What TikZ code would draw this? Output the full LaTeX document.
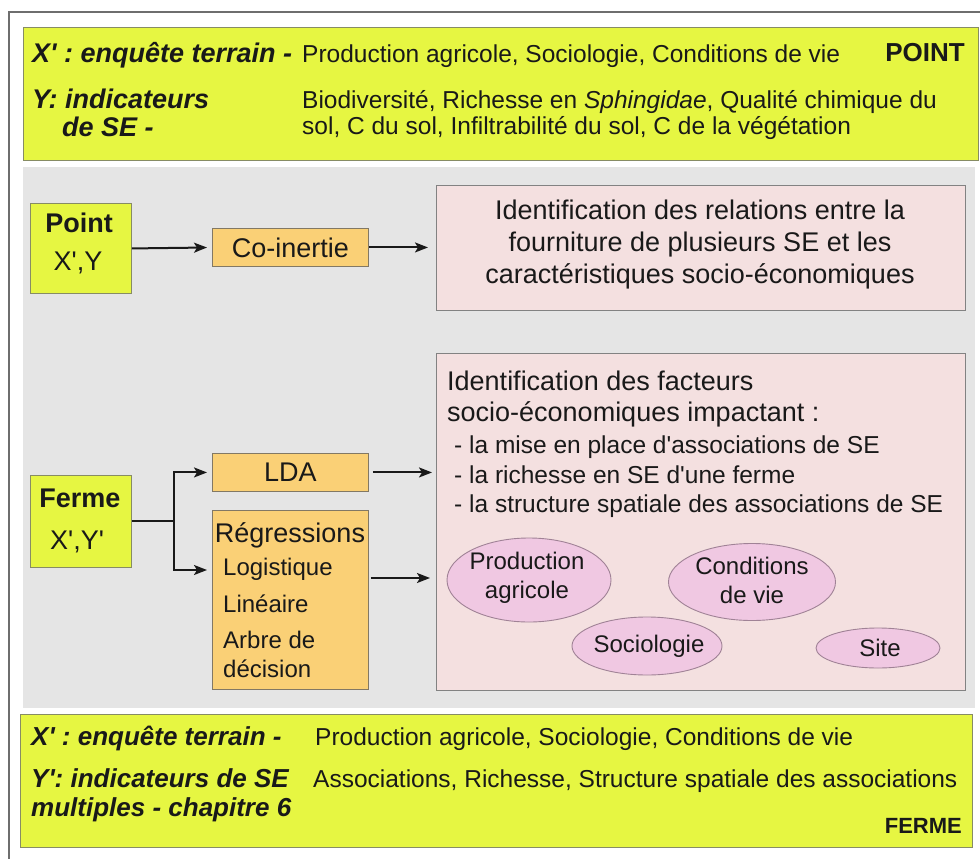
\documentclass[tikz,border=0pt]{standalone}
\usepackage{fontspec}
\setmainfont{Liberation Sans}[Ligatures=TeXOff]
\usetikzlibrary{shapes.geometric,arrows.meta,calc}
\definecolor{yel}{RGB}{230,246,66}
\definecolor{ybord}{RGB}{135,140,100}
\definecolor{panel}{RGB}{229,229,229}
\definecolor{orng}{RGB}{250,208,118}
\definecolor{obord}{RGB}{130,120,100}
\definecolor{pinkbox}{RGB}{244,224,224}
\definecolor{pbord}{RGB}{130,130,130}
\definecolor{ellfill}{RGB}{240,200,226}
\definecolor{ellbord}{RGB}{160,130,150}
\definecolor{ink}{RGB}{25,25,25}
\definecolor{framecol}{RGB}{110,110,110}
\begin{document}
\begin{tikzpicture}[x=1pt,y=-1pt,
  box/.style={rectangle, inner sep=0pt, anchor=north west, line width=0.9pt},
  ybox/.style={box, fill=yel, draw=ybord},
  obox/.style={box, fill=orng, draw=obord},
  pbox/.style={box, fill=pinkbox, draw=pbord},
  ell/.style={ellipse, inner sep=0pt, fill=ellfill, draw=ellbord, line width=0.9pt},
  txt/.style={inner sep=0pt, text=ink},
  lbl/.style={txt, font=\fontsize{27}{31}\selectfont\bfseries\itshape},
  lblsm/.style={txt, font=\fontsize{26}{30}\selectfont\bfseries\itshape},
  lblb/.style={txt, font=\fontsize{26}{30}\selectfont\bfseries},
  reg/.style={txt, font=\fontsize{24.5}{29}\selectfont},
  mid/.style={txt, font=\fontsize{27}{32}\selectfont},
  midb/.style={txt, font=\fontsize{27}{32}\selectfont\bfseries},
  sub/.style={txt, font=\fontsize{24}{29}\selectfont},
  arr/.style={-{Stealth[length=13pt,width=10pt,inset=3pt]}, line width=2pt, draw=ink},
  conn/.style={line width=2pt, draw=ink},
  frame/.style={line width=2.6pt, draw=framecol}
]
\useasboundingbox (0,0) rectangle (980,859);
\fill[white] (0,0) rectangle (980,859);

% outer frame
\draw[frame] (9,859) -- (9,12) -- (980,12);

% top box
\node[ybox, minimum width=955pt, minimum height=133pt] (topbox) at (23,27) {};
\node[lbl, anchor=base west] (tx1) at (32,63) {X' : enquête terrain -};
\node[reg, anchor=base west] (tx2) at (302,63) {Production agricole, Sociologie, Conditions de vie};
\node[lblb, anchor=base east] (tx3) at (965,62) {POINT};
\node[lbl, anchor=base west] (ty1) at (32,108) {Y: indicateurs};
\node[lbl, anchor=base west] (ty2) at (62,136) {de SE -};
\node[reg, anchor=base west] (ty3) at (302,108) {Biodiversité, Richesse en \textit{Sphingidae}, Qualité chimique du};
\node[reg, anchor=base west] (ty4) at (302,134) {sol, C du sol, Infiltrabilité du sol, C de la végétation};

% grey panel
\node[box, fill=panel, minimum width=952pt, minimum height=541pt] (panel) at (23,167) {};

% Point row
\node[ybox, minimum width=101pt, minimum height=90pt] (pointbox) at (30,203) {};
\node[midb, anchor=base] (pointt) at (79,232) {Point};
\node[mid, anchor=base] (pointxy) at (78,270) {X',Y};
\node[obox, minimum width=156pt, minimum height=38pt, mid] (coin) at (212,228) {Co-inertie};
\node[pbox, minimum width=529pt, minimum height=125pt] (pink1) at (436,185) {};
\node[mid, anchor=base] (p1a) at (700,219) {Identification des relations entre la};
\node[mid, anchor=base] (p1b) at (700,251) {fourniture de plusieurs SE et les};
\node[mid, anchor=base] (p1c) at (700,283) {caractéristiques socio-économiques};

\draw[arr, shorten >=5pt] (pointbox.east) -- (coin.west);
\draw[arr, shorten >=8pt] (coin.east) -- (coin.east -| pink1.west);

% Ferme row
\node[ybox, minimum width=101pt, minimum height=92pt] (fermebox) at (30,475) {};
\node[midb, anchor=base] (fermet) at (80,507) {Ferme};
\node[mid, anchor=base] (fermexy) at (77,549) {X',Y'};
\node[obox, minimum width=156pt, minimum height=38pt, mid] (lda) at (212,453) {LDA};
\node[obox, minimum width=156pt, minimum height=179pt] (reg) at (212,510) {};
\node[mid, anchor=base] (reg0) at (290,542) {Régressions};
\node[sub, anchor=base west] (reg1) at (223,575) {Logistique};
\node[sub, anchor=base west] (reg2) at (223,612) {Linéaire};
\node[sub, anchor=base west] (reg3) at (223,648) {Arbre de};
\node[sub, anchor=base west] (reg4) at (223,677) {décision};

\node[pbox, minimum width=529pt, minimum height=337pt] (pink2) at (436,353) {};
\node[mid, anchor=base west] (p2a) at (447,390) {Identification des facteurs};
\node[mid, anchor=base west] (p2b) at (447,421) {socio-économiques impactant :};
\node[reg, anchor=base west] (p2c) at (454,453) {- la mise en place d'associations de SE};
\node[reg, anchor=base west] (p2d) at (454,483) {- la richesse en SE d'une ferme};
\node[reg, anchor=base west] (p2e) at (454,512) {- la structure spatiale des associations de SE};

\node[ell, minimum width=164pt, minimum height=84pt] (e1) at (529,580) {};
\node[sub, align=center] (e1t) at (527,578) {Production\\[0pt]agricole};
\node[ell, minimum width=167pt, minimum height=77pt] (e2) at (752,582) {};
\node[sub, align=center] (e2t) at (752,580) {Conditions\\[0pt]de vie};
\node[ell, minimum width=150pt, minimum height=58pt] (e3) at (647,646) {};
\node[sub] (e3t) at (649,646) {Sociologie};
\node[ell, minimum width=124pt, minimum height=40pt] (e4) at (878,648) {};
\node[sub] (e4t) at (880,648) {Site};

\draw[conn] (fermebox.east) -- ++(42,0) coordinate (split);
\coordinate (regin) at ($(reg.north west)+(0,60)$);
\draw[arr, shorten >=5pt] (split) |- (lda.west);
\draw[arr, shorten >=5pt] (split) |- (regin);
\coordinate (ldaout) at ($(lda.east)+(4,0)$);
\draw[arr, shorten >=4pt] (ldaout) -- (ldaout -| pink2.west);
\coordinate (regout) at ($(reg.north east)+(2,68)$);
\draw[arr, shorten >=6pt] (regout) -- (regout -| pink2.west);

% bottom box
\node[ybox, minimum width=952pt, minimum height=133pt] (botbox) at (20,714) {};
\node[lblsm, anchor=base west] (bx1) at (31,745) {X' : enquête terrain -};
\node[reg, anchor=base west] (bx2) at (315,745) {Production agricole, Sociologie, Conditions de vie};
\node[lblsm, anchor=base west] (by1) at (31,787) {Y': indicateurs de SE};
\node[reg, anchor=base west] (by2) at (313,787) {Associations, Richesse, Structure spatiale des associations};
\node[lblsm, anchor=base west] (by3) at (31,816) {multiples - chapitre 6};
\node[txt, font=\fontsize{22}{26}\selectfont\bfseries, anchor=base east] (bferme) at (962,833) {FERME};
\end{tikzpicture}
\end{document}
